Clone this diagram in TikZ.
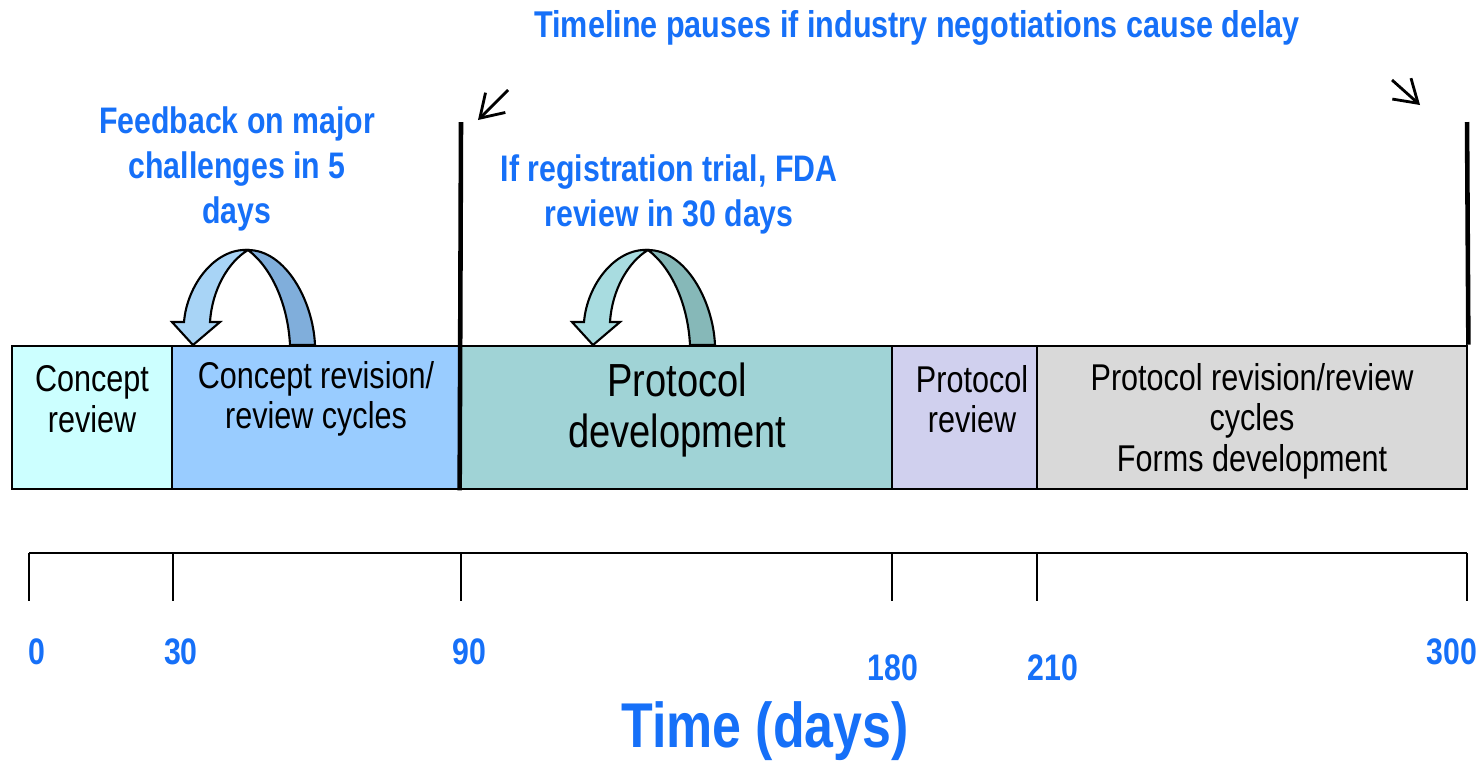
\documentclass[tikz,border=0pt]{standalone}
\usepackage{fontspec}
\setmainfont{Liberation Sans}[FakeStretch=0.82]
\usetikzlibrary{arrows.meta}
\definecolor{notecol}{RGB}{22,112,248}
\definecolor{conceptcol}{RGB}{204,255,255}
\definecolor{revisecol}{RGB}{153,204,255}
\definecolor{develcol}{RGB}{160,211,214}
\definecolor{reviewcol}{RGB}{208,208,238}
\definecolor{formscol}{RGB}{217,217,217}
\definecolor{arrAlite}{RGB}{168,212,246}
\definecolor{arrAdark}{RGB}{128,174,219}
\definecolor{arrBlite}{RGB}{168,220,224}
\definecolor{arrBdark}{RGB}{134,184,184}
\tikzset{>={Straight Barb[length=2.2mm,width=2.8mm]},
  phase/.style={draw, line width=0.7pt, minimum height=1.43cm, inner sep=0pt},
  phasetext/.style={align=center, font=\fontsize{10.6}{11.5}\selectfont},
  note/.style={align=center, text=notecol, font=\bfseries\fontsize{10.5}{12.8}\selectfont},
  daylabel/.style={text=notecol, font=\bfseries\fontsize{10.5}{12}\selectfont},
  pause/.style={line width=1.3pt},
  tick/.style={line width=0.7pt}
}

\begin{document}
\begin{tikzpicture}[x=0.01cm, y=-0.01cm]
    \useasboundingbox (0,0) rectangle (1480,766);

    % phases along the timeline
    \node[phase, fill=conceptcol, minimum width=1.60cm] (concept) at (92,417.5) {};
    \node[phase, fill=revisecol, minimum width=2.89cm] (revise) at (316.5,417.5) {};
    \node[phase, fill=develcol, minimum width=4.31cm] (devel) at (676.5,417.5) {};
    \node[phase, fill=reviewcol, minimum width=1.45cm] (review) at (964.5,417.5) {};
    \node[phase, fill=formscol, minimum width=4.30cm] (forms) at (1252,417.5) {};

    \node[phasetext] (conceptT) at (92,399) {Concept\\review};
    \node[phasetext] (reviseT) at (316,399) {Concept revision/\\review cycles};
    \node[phasetext, font=\fontsize{13.2}{14.6}\selectfont] (develT) at (677,410) {Protocol\\development};
    \node[phasetext] (reviewT) at (972,399) {Protocol\\review};
    \node[phasetext] (formsT) at (1252,421) {Protocol revision/review\\cycles\\Forms development};

    % pause markers
    \coordinate (pauseL) at (461,122);
    \coordinate (pauseR) at (1467,122);
    \draw[pause] (pauseL) -- (devel.south west);
    \draw[pause] (pauseR) -- (forms.north east);

    \node[note, font=\bfseries\fontsize{10.6}{12.8}\selectfont] (pauseNote) at (917,28) {Timeline pauses if industry negotiations cause delay};
    \coordinate (startL) at (508,90);
    \coordinate (endL) at (478,120);
    \coordinate (startR) at (1392,80);
    \coordinate (endR) at (1420,105);
    \draw[->, line width=0.8pt] (startL) -- (endL);
    \draw[->, line width=0.8pt] (startR) -- (endR);

    % feedback loops
    \node[note] (feedback) at (237,169) {Feedback on major\\challenges in 5\\days};
    \node[note] (fdaNote) at (669,194) {If registration trial, FDA\\review in 30 days};
    \foreach \dx/\lite/\dark in {0/arrAlite/arrAdark, 400/arrBlite/arrBdark} {
        \begin{scope}[xshift=\dx*0.01cm, line width=0.6pt]
            \draw[fill=\dark] (248,250) .. controls (285,250) and (313,300) .. (315,345)
                -- (290,345) .. controls (288,305) and (272,268) .. (248,250) -- cycle;
            \draw[fill=\lite] (248,250) .. controls (215,248) and (187,285) .. (184,322)
                -- (172,322) -- (193,345) -- (220,322) -- (210,322)
                .. controls (212,290) and (228,262) .. (248,250) -- cycle;
        \end{scope}
    }

    % time axis
    \draw[tick] (29,553) -- (1467,553);
    \foreach \x in {29,173,461,892,1037,1467}
        \draw[tick] (\x,553) -- (\x,601);
    \foreach \x/\y/\d in {37/652/0, 181/652/30, 469/652/90, 893/668/180, 1053/668/210, 1452/652/300}
        \node[daylabel] (day\d) at (\x,\y) {\d};
    \node[text=notecol, font=\bfseries\fontsize{18}{22}\selectfont] (axisName) at (765,731) {Time (days)};
\end{tikzpicture}
\end{document}
